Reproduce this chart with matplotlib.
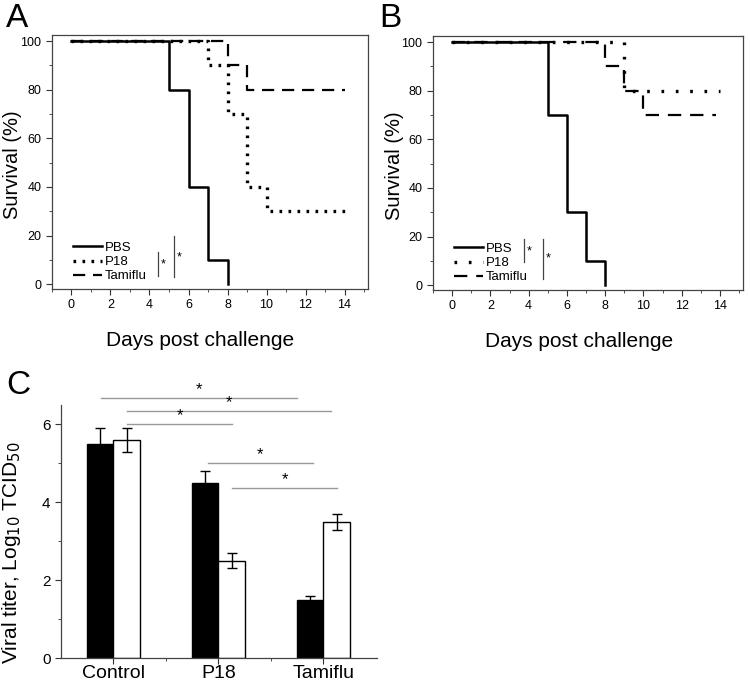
import matplotlib.pyplot as plt
from matplotlib.ticker import MultipleLocator

plt.rcParams['font.family'] = ['Liberation Sans', 'DejaVu Sans']

# Panel A survival (step data)
a_pbs_days = [0, 5, 6, 7, 8]
a_pbs_surv = [100, 80, 40, 10, 0]
a_p18_days = [0, 7, 8, 9, 10, 14]
a_p18_surv = [100, 90, 70, 40, 30, 30]
a_tam_days = [0, 8, 9, 14]
a_tam_surv = [100, 90, 80, 80]

# Panel B survival
b_pbs_days = [0, 5, 6, 7, 8]
b_pbs_surv = [100, 70, 30, 10, 0]
b_p18_days = [0, 9, 14]
b_p18_surv = [100, 80, 80]
b_tam_days = [0, 8, 9, 10, 13.8]
b_tam_surv = [100, 90, 80, 70, 70]

# Panel C viral titers
groups = ['Control', 'P18', 'Tamiflu']
titer_black = [5.5, 4.5, 1.5]
err_black = [0.4, 0.3, 0.1]
titer_white = [5.6, 2.5, 3.5]
err_white = [0.3, 0.2, 0.2]

fig = plt.figure(figsize=(7.5, 6.83), dpi=100)


def survival_panel(ax, series, sig, ylab_x):
    for days, surv, ls, lw, lab in series:
        ax.step(days, surv, where='post', color='black', linestyle=ls, lw=lw, label=lab)
    ax.set_xlim(-1, 15.2)
    ax.set_ylim(-2, 102.5)
    ax.xaxis.set_major_locator(MultipleLocator(2))
    ax.xaxis.set_minor_locator(MultipleLocator(1))
    ax.yaxis.set_major_locator(MultipleLocator(20))
    ax.yaxis.set_minor_locator(MultipleLocator(10))
    ax.tick_params(which='both', direction='out', labelsize=9, color='#333333')
    ax.tick_params(which='major', length=4)
    ax.tick_params(which='minor', length=2.5)
    for s in ax.spines.values():
        s.set_color('#444444')
        s.set_linewidth(0.9)
    ax.set_xlabel('Days post challenge', fontsize=15, labelpad=14)
    ax.xaxis.label.set_x(0.47)
    ax.set_ylabel('Survival (%)', fontsize=14.5)
    ax.yaxis.set_label_coords(ylab_x, 0.49)
    h, l = ax.get_legend_handles_labels()
    order = [2, 0, 1]
    ax.legend([h[i] for i in order], [l[i] for i in order], loc='lower left',
              bbox_to_anchor=(0.05, 0.005), borderaxespad=0, frameon=False,
              fontsize=9.5, handlelength=2.2, handletextpad=0.2, labelspacing=0.15)
    for x, y0, y1, ys in sig:
        ax.plot([x, x], [y0, y1], color='#444444', lw=0.9)
        ax.text(x + 0.12, ys, '*', fontsize=9, ha='left', va='center')


axA = fig.add_axes([0.0693, 0.5769, 0.4213, 0.3719])
survival_panel(axA, [
    (a_p18_days, a_p18_surv, (0, (0.8, 1.9)), 2.4, 'P18'),
    (a_tam_days, a_tam_surv, (0, (5.5, 3.5)), 1.6, 'Tamiflu'),
    (a_pbs_days, a_pbs_surv, '-', 1.8, 'PBS'),
], [(4.46, 3.3, 13.2, 8.0), (5.28, 2.9, 19.7, 11.0)], -0.095)

axB = fig.add_axes([0.5773, 0.5754, 0.4133, 0.3719])
survival_panel(axB, [
    (b_p18_days, b_p18_surv, (0, (0.8, 3.5)), 2.4, 'P18'),
    (b_tam_days, b_tam_surv, (0, (6, 4)), 1.6, 'Tamiflu'),
    (b_pbs_days, b_pbs_surv, '-', 1.8, 'PBS'),
], [(3.77, 9.5, 18.9, 14.0), (4.77, 2.5, 18.9, 11.0)], -0.095)

# Panel C bars
axC = fig.add_axes([0.0813, 0.0366, 0.4213, 0.3704])
x = list(range(len(groups)))
w = 0.25
axC.bar([i - w / 2 for i in x], titer_black, w, color='black', edgecolor='black', lw=1)
axC.bar([i + w / 2 for i in x], titer_white, w, color='white', edgecolor='black', lw=1)
axC.errorbar([i - w / 2 for i in x], titer_black, yerr=err_black, fmt='none',
             ecolor='black', elinewidth=1, capsize=3.6, capthick=1)
axC.errorbar([i + w / 2 for i in x], titer_white, yerr=err_white, fmt='none',
             ecolor='black', elinewidth=1, capsize=3.6, capthick=1)
axC.set_xlim(-0.5, 2.51)
axC.set_ylim(0, 6.5)
axC.set_xticks(x)
axC.set_xticklabels(groups, fontsize=14)
axC.set_xticks([0.5, 1.5], minor=True)
axC.yaxis.set_major_locator(MultipleLocator(2))
axC.yaxis.set_minor_locator(MultipleLocator(1))
axC.tick_params(axis='y', labelsize=11)
axC.tick_params(which='both', direction='out', color='#333333')
axC.tick_params(which='major', length=4)
axC.tick_params(which='minor', length=2.5)
axC.tick_params(axis='x', pad=1)
axC.spines['top'].set_visible(False)
axC.spines['right'].set_visible(False)
for s in ['left', 'bottom']:
    axC.spines[s].set_color('#444444')
    axC.spines[s].set_linewidth(0.9)
axC.set_ylabel('Viral titer, Log$_{10}$ TCID$_{50}$', fontsize=15)
axC.yaxis.set_label_coords(-0.12, 0.415)

# significance brackets (x0, x1, y)
sig_c = [(-0.12, 1.75, 6.68), (0.13, 2.07, 6.35), (0.13, 1.13, 6.01),
         (0.90, 1.90, 5.01), (1.13, 2.13, 4.37)]
for x0, x1, y in sig_c:
    axC.plot([x0, x1], [y, y], color='#999999', lw=1, clip_on=False)
    axC.text((x0 + x1) / 2, y + 0.02, '*', fontsize=12, ha='center', va='bottom')

fig.text(0.008, 0.995, 'A', fontsize=24, va='top')
fig.text(0.505, 0.995, 'B', fontsize=24, va='top')
fig.text(0.008, 0.458, 'C', fontsize=24, va='top')

fig.savefig('out.png', dpi=100)
